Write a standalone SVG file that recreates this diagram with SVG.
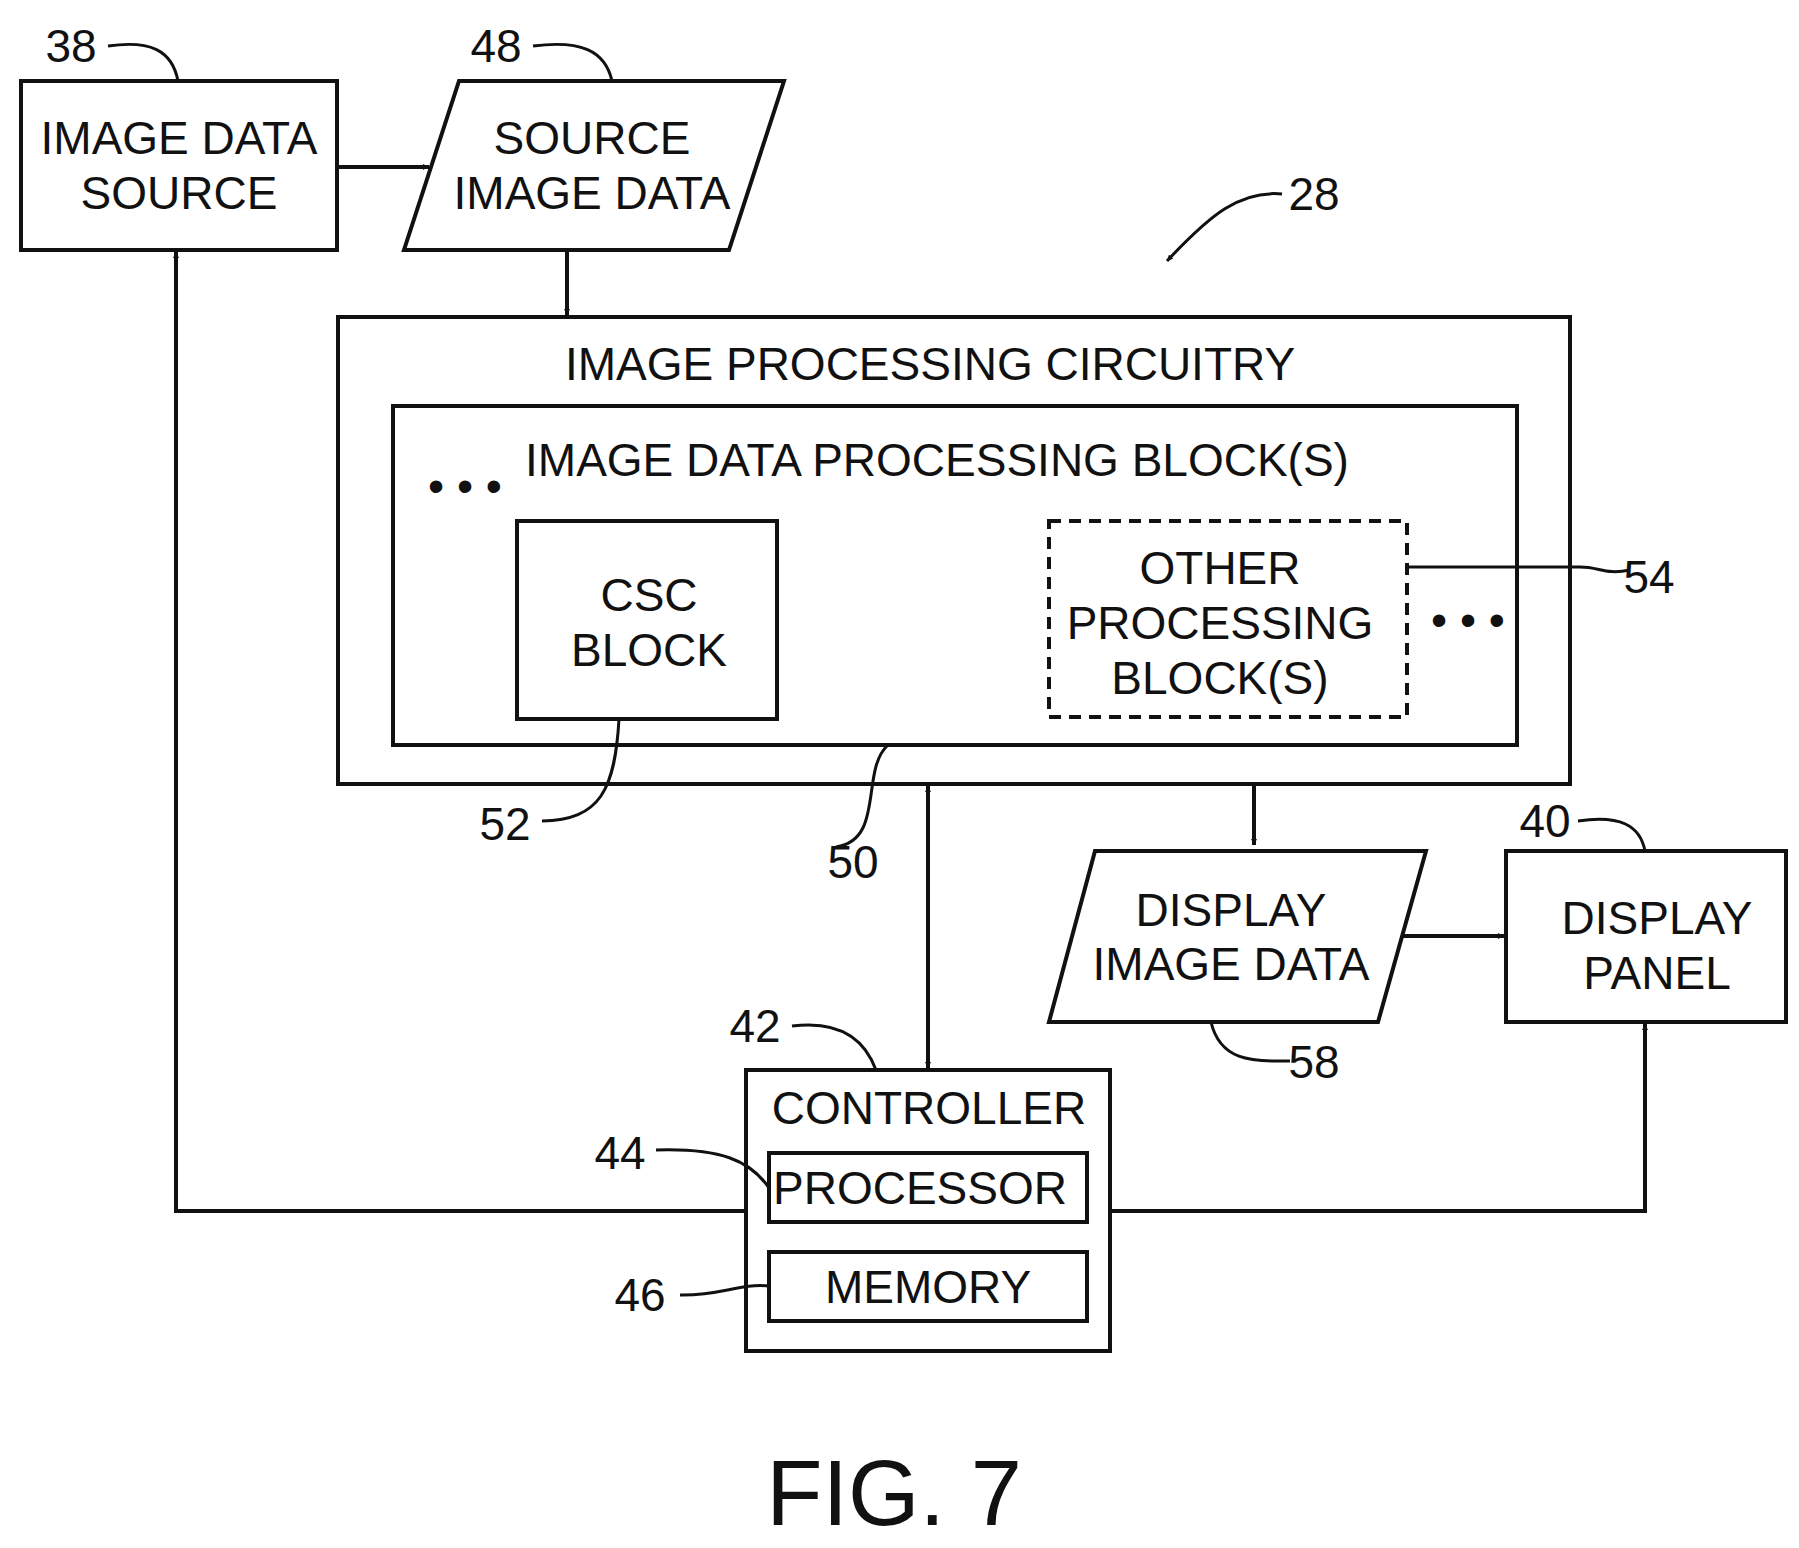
<svg xmlns="http://www.w3.org/2000/svg" width="1799" height="1548" viewBox="0 0 1799 1548">
<defs>
<style>
.b{fill:none;stroke:#111;stroke-width:4}
.t{font-family:"Liberation Sans",Arial,sans-serif;font-size:46px;fill:#111;text-anchor:middle}
.n{font-family:"Liberation Sans",Arial,sans-serif;font-size:46px;fill:#111;text-anchor:middle}
.l{fill:none;stroke:#111;stroke-width:3}
</style>
<marker id="a" viewBox="0 0 10 10" refX="10" refY="5" markerWidth="6" markerHeight="6" orient="auto-start-reverse" markerUnits="userSpaceOnUse"><path d="M0,0 L10,5 L0,10 Z" fill="#111"/></marker>
</defs>
<rect width="1799" height="1548" fill="#fff"/>
<g id="connectors">
<path class="b" d="M337,167 H429" marker-end="url(#a)" style="marker-end:url(#a)"/>
<path class="b" d="M567,250 V315" style="marker-end:url(#a)"/>
<path class="b" d="M928,786 V1068" style="marker-start:url(#a);marker-end:url(#a)"/>
<path class="b" d="M1254,784 V845" style="marker-end:url(#a)"/>
<path class="b" d="M1401,936 H1504" style="marker-end:url(#a)"/>
<path class="b" d="M746,1211 H176 V252" style="marker-end:url(#a)"/>
<path class="b" d="M1110,1211 H1645 V1024" style="marker-end:url(#a)"/>
</g>
<g id="n38"><rect class="b" x="21" y="81" width="316" height="169"/><text class="t" x="179" y="154">IMAGE  DATA</text><text class="t" x="179" y="209">SOURCE</text>
<text class="n" x="71" y="62">38</text><path class="l" d="M108,46 C150,40 172,50 178,81"/></g>
<g id="n48"><polygon class="b" points="459,81 784,81 729,250 404,250"/><text class="t" x="592" y="154">SOURCE</text><text class="t" x="592" y="209">IMAGE  DATA</text>
<text class="n" x="496" y="62">48</text><path class="l" d="M533,46 C580,40 605,50 612,81"/></g>
<g id="n28"><text class="n" x="1314" y="210">28</text><path class="l" d="M1282,194 C1240,190 1210,215 1167,261" style="marker-end:url(#a)"/></g>
<g id="n50"><rect class="b" x="338" y="317" width="1232" height="467"/><text class="t" x="930" y="380">IMAGE  PROCESSING  CIRCUITRY</text>
<rect class="b" x="393" y="406" width="1124" height="339"/><text class="t" x="937" y="476">IMAGE  DATA  PROCESSING  BLOCK(S)</text>
<text class="t" x="465" y="502">• • •</text><text class="t" x="1468" y="636">• • •</text>
<text class="n" x="853" y="878">50</text><path class="l" d="M888,745 C860,770 885,840 836,847"/></g>
<g id="n52"><rect class="b" x="517" y="521" width="260" height="198"/><text class="t" x="649" y="611">CSC</text><text class="t" x="649" y="666">BLOCK</text>
<text class="n" x="505" y="840">52</text><path class="l" d="M619,719 C615,790 600,820 542,821"/></g>
<g id="n54"><rect class="b" x="1049" y="521" width="358" height="196" stroke-dasharray="12,8"/><text class="t" x="1220" y="584">OTHER</text><text class="t" x="1220" y="639">PROCESSING</text><text class="t" x="1220" y="694">BLOCK(S)</text>
<text class="n" x="1649" y="593">54</text><path class="l" d="M1409,567 H1580 C1600,567 1605,575 1630,570"/></g>
<g id="n58"><polygon class="b" points="1095,851 1426,851 1378,1022 1049,1022"/><text class="t" x="1231" y="926">DISPLAY</text><text class="t" x="1231" y="980">IMAGE  DATA</text>
<text class="n" x="1314" y="1078">58</text><path class="l" d="M1211,1022 C1220,1060 1250,1062 1290,1061"/></g>
<g id="n40"><rect class="b" x="1506" y="851" width="280" height="171"/><text class="t" x="1657" y="934">DISPLAY</text><text class="t" x="1657" y="989">PANEL</text>
<text class="n" x="1545" y="837">40</text><path class="l" d="M1578,821 C1620,815 1640,825 1645,851"/></g>
<g id="n42"><rect class="b" x="746" y="1070" width="364" height="281"/><text class="t" x="929" y="1124">CONTROLLER</text>
<text class="n" x="755" y="1042">42</text><path class="l" d="M792,1026 C840,1020 865,1040 876,1070"/></g>
<g id="n44"><rect class="b" x="769" y="1153" width="318" height="69"/><text class="t" x="920" y="1204">PROCESSOR</text>
<text class="n" x="620" y="1169">44</text><path class="l" d="M656,1150 C720,1148 750,1160 769,1188"/></g>
<g id="n46"><rect class="b" x="769" y="1252" width="318" height="69"/><text class="t" x="928" y="1303">MEMORY</text>
<text class="n" x="640" y="1311">46</text><path class="l" d="M680,1295 C720,1296 740,1283 769,1286"/></g>
<text class="t" x="894" y="1525" style="font-size:92px">FIG. 7</text>
</svg>
